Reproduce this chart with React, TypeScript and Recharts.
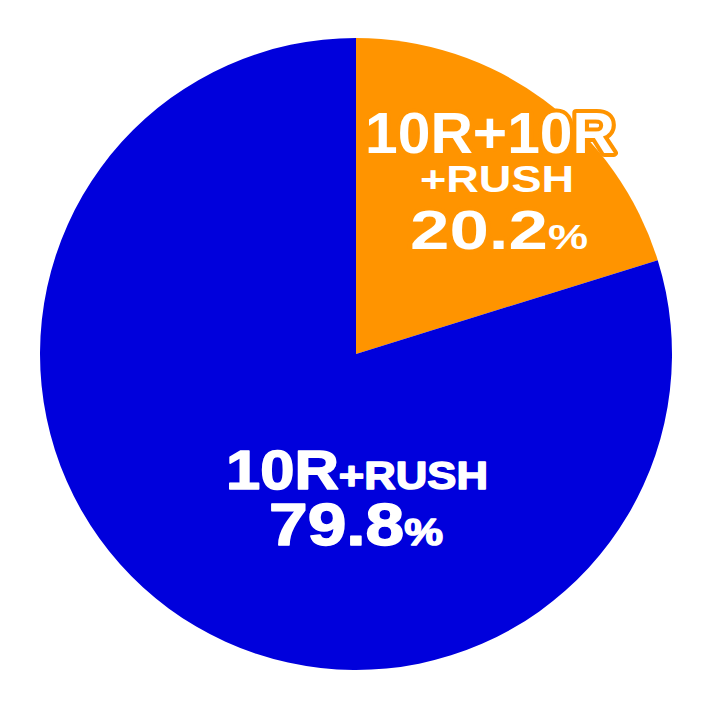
import { PieChart, Pie, Cell } from "recharts";

const categories = ["10R+10R+RUSH", "10R+RUSH"];
const shares = [20.2, 79.8];
const colors = ["#FF9400", "#0000DC"];

const data = categories.map((name, i) => ({ name, value: shares[i] }));

const FONT = "'Liberation Sans', Arial, Helvetica, sans-serif";

// stretched text, the reference uses a wide heavy face
function renderLabel(props: any) {
  const { cx, cy, index } = props;
  const base = {
    fill: "#fff",
    stroke: "#fff",
    strokeWidth: 1.5,
    strokeLinejoin: "round" as const,
    textAnchor: "middle" as const,
    fontFamily: FONT,
    fontWeight: 700,
    lengthAdjust: "spacingAndGlyphs",
  };
  if (index === 0) {
    const outl = { ...base, stroke: colors[0], strokeWidth: 8, paintOrder: "stroke" };
    return (
      <g>
        <text x={cx + 134} y={cy - 201} fontSize={57} textLength={250} {...outl}>10R+10R</text>
        <text x={cx + 141} y={cy - 162} fontSize={37} textLength={154} {...outl}>+RUSH</text>
        <text x={cx + 143} y={cy - 105} textLength={178} {...outl}>
          <tspan fontSize={55}>{shares[0].toFixed(1)}</tspan>
          <tspan fontSize={35}>%</tspan>
        </text>
      </g>
    );
  }
  return (
    <g>
      <text x={cx + 1} y={cy + 135} textLength={262} {...base}>
        <tspan fontSize={55}>10R</tspan>
        <tspan fontSize={39}>+RUSH</tspan>
      </text>
      <text x={cx + 0} y={cy + 191} textLength={174} {...base}>
        <tspan fontSize={59}>{shares[1].toFixed(1)}</tspan>
        <tspan fontSize={37}>%</tspan>
      </text>
    </g>
  );
}

export default function App() {
  return (
    <div style={{ position: "absolute", left: 0, top: 0, width: 712, height: 710, background: "#fff" }}>
      <PieChart width={712} height={710} margin={{ top: 0, right: 0, bottom: 0, left: 0 }}>
        <Pie
          data={data}
          dataKey="value"
          nameKey="name"
          cx={356}
          cy={354}
          outerRadius={316}
          startAngle={90}
          endAngle={-270}
          stroke="none"
          labelLine={false}
          label={renderLabel}
          isAnimationActive={false}
        >
          {data.map((d, i) => (
            <Cell key={d.name} fill={colors[i]} />
          ))}
        </Pie>
      </PieChart>
    </div>
  );
}
